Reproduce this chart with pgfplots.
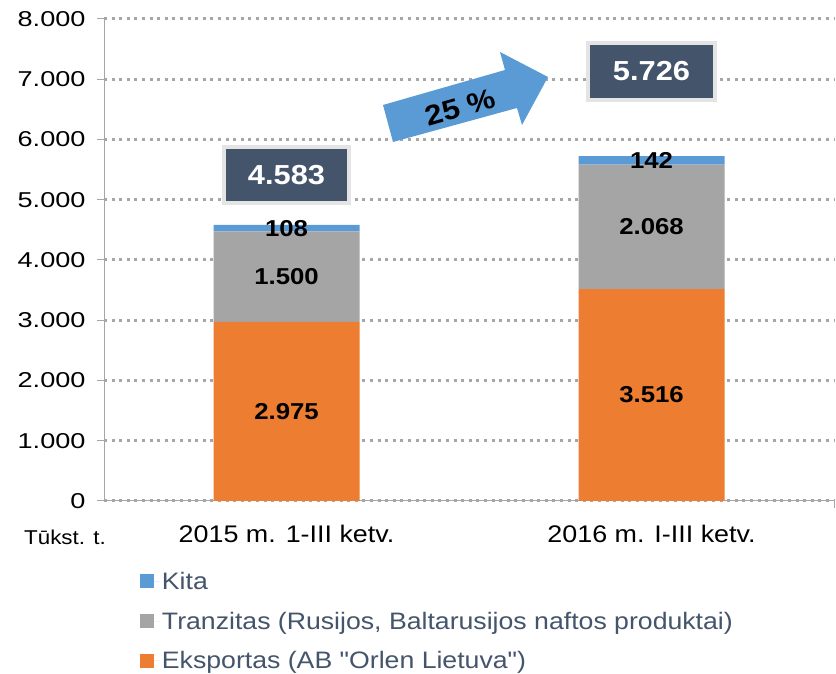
\documentclass[border=0pt]{standalone}
\usepackage{fontspec}
\setmainfont{Liberation Sans}[FakeStretch=1.12, Ligatures=TeXOff]
\newfontfamily\tickfont{Liberation Sans}[FakeStretch=1.26]
\usepackage{pgfplots}
\pgfplotsset{compat=1.18}
\definecolor{cOrange}{HTML}{ED7D31}
\definecolor{cGray}{HTML}{A5A5A5}
\definecolor{cBlue}{HTML}{5B9BD5}
\definecolor{cBox}{HTML}{44546A}
\definecolor{cBoxBorder}{HTML}{E4E4E4}
\definecolor{cGrid}{HTML}{A6A6A6}
\definecolor{cAxis}{HTML}{A6A6A6}
\definecolor{cLegText}{HTML}{44546A}
\tikzset{
  lab/.style={font=\fontsize{23}{27}\selectfont\bfseries, text=black},
  tot/.style={fill=cBox, draw=cBoxBorder, line width=3.5pt, text=white, font=\fontsize{27.5}{32}\selectfont\bfseries},
}
\begin{document}
\begin{tikzpicture}
\useasboundingbox (0pt,0pt) rectangle (836pt,674pt);
\begin{axis}[
  at={(104pt,173pt)}, anchor=south west,
  scale only axis, width=730pt, height=482pt,
  xmin=-0.5, xmax=1.5, ymin=0, ymax=8000,
  ybar stacked, bar width=0.4,
  xtick={0,1}, xticklabels={2015 m. 1-III ketv., 2016 m. I-III ketv.},
  extra x ticks={1.5}, extra x tick labels={},
  extra x tick style={grid=none, xtick style={draw=cAxis, line width=1pt}},
  ytick={0,1000,2000,3000,4000,5000,6000,7000,8000},
  /pgf/number format/assume math mode=true,
  /pgf/number format/1000 sep={.},
  yticklabel={\pgfmathprintnumber{\tick}},
  axis x line*=bottom, axis y line*=left,
  axis line style={draw=cAxis, line width=1pt},
  tick align=outside, major tick length=7pt,
  ytick style={draw=cAxis, line width=1pt},
  xtick style={draw=none},
  ymajorgrids,
  major grid style={draw=cGrid, line width=3pt, dash pattern=on 3pt off 4.6pt},
  yticklabel style={font=\tickfont\fontsize{21.5}{25}\selectfont, text=black, xshift=-8pt},
  xticklabel style={font=\fontsize{24}{28}\selectfont, text=black, yshift=-14pt},
  reverse legend,
  legend style={at={(0.049,-0.143)}, anchor=north west, draw=none, fill=none,
    inner sep=0pt, row sep=17pt,
    font=\fontsize{23.8}{28}\selectfont, text=cLegText},
  legend cell align=left,
  legend image code/.code={\fill[#1] (0pt,-7pt) rectangle (14pt,7pt); \path (0pt,0pt) -- (20pt,0pt);},
  clip=false,
]
\addplot[fill=cOrange, draw=none] coordinates {(0,2975) (1,3516)};
\addlegendentry{Eksportas (AB "Orlen Lietuva")}
\addplot[fill=cGray, draw=none] coordinates {(0,1500) (1,2068)};
\addlegendentry{Tranzitas (Rusijos, Baltarusijos naftos produktai)}
\addplot[fill=cBlue, draw=none] coordinates {(0,108) (1,142)};
\addlegendentry{Kita}
\coordinate (a1) at (axis cs:0,1487.5);
\coordinate (a2) at (axis cs:0,3725);
\coordinate (a3) at (axis cs:0,4529);
\coordinate (b1) at (axis cs:1,1758);
\coordinate (b2) at (axis cs:1,4550);
\coordinate (b3) at (axis cs:1,5655);
\coordinate (ta) at (axis cs:0,5411);
\coordinate (tb) at (axis cs:1,7129);
\end{axis}
\node[lab] at (a1) {2.975};
\node[lab] at (a2) {1.500};
\node[lab] at (a3) {108};
\node[lab] at (b1) {3.516};
\node[lab] at (b2) {2.068};
\node[lab] at (b3) {142};
\node[tot, minimum width=125pt, minimum height=56pt] at (ta) {4.583};
\node[tot, minimum width=127pt, minimum height=57pt] at (tb) {5.726};
\fill[cBlue] (393pt,532pt) -- (383pt,569pt) -- (505pt,604pt) -- (500pt,622pt) -- (548pt,597pt) -- (522pt,549pt) -- (517pt,566pt) -- cycle;
\node[rotate=16, font=\fontsize{28}{32}\selectfont\bfseries, text=black] at (460pt,567pt) {25 \%};
\node[font=\fontsize{20}{24}\selectfont, text=black] at (65pt,137pt) {Tūkst. t.};
\end{tikzpicture}
\end{document}
